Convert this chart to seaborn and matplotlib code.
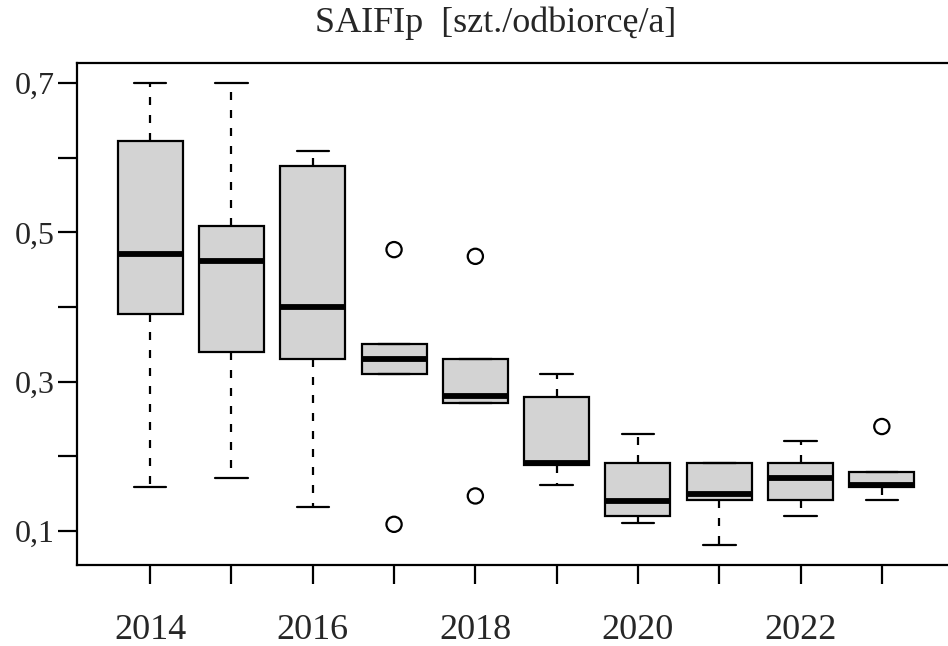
import numpy as np
import pandas as pd
import matplotlib
matplotlib.use("Agg")
import matplotlib.pyplot as plt
import seaborn as sns

# Five-number summary of SAIFIp per year
years = [2014, 2015, 2016, 2017, 2018, 2019, 2020, 2021, 2022, 2023]
whisker_low = [0.159, 0.171, 0.132, 0.311, 0.272, 0.162, 0.111, 0.081, 0.120, 0.141]
q1 = [0.391, 0.340, 0.331, 0.311, 0.272, 0.188, 0.120, 0.141, 0.141, 0.159]
median = [0.471, 0.462, 0.400, 0.331, 0.281, 0.191, 0.140, 0.150, 0.171, 0.162]
q3 = [0.622, 0.509, 0.589, 0.351, 0.331, 0.280, 0.191, 0.191, 0.191, 0.179]
whisker_high = [0.700, 0.700, 0.609, 0.351, 0.331, 0.310, 0.230, 0.191, 0.221, 0.179]

# Outlying observations
outlier_years = [2017, 2017, 2018, 2018, 2023]
outlier_values = [0.477, 0.109, 0.468, 0.147, 0.240]

y_ticks = [0.1, 0.2, 0.3, 0.4, 0.5, 0.6, 0.7]
y_tick_labels = ["0,1", "", "0,3", "", "0,5", "", "0,7"]
x_tick_labels = ["2014", "", "2016", "", "2018", "", "2020", "", "2022", ""]
title = "SAIFIp  [szt./odbiorcę/a]"

sns.set_theme(style="ticks")
plt.rcParams["font.family"] = ["Liberation Serif", "DejaVu Serif"]

# Long-form table: each year's summary values, so the quartiles are exact
rows = []
for yr, lo, a, m, b, hi in zip(years, whisker_low, q1, median, q3, whisker_high):
    for v in (lo, a, m, b, hi):
        rows.append({"rok": yr, "SAIFIp": v})
df = pd.DataFrame(rows)
out_df = pd.DataFrame({"rok": outlier_years, "SAIFIp": outlier_values})

fig = plt.figure(figsize=(9.48, 6.46), dpi=100)
ax = fig.add_axes([77 / 948, 81 / 646, 878 / 948, 502 / 646])

lw = 1.6
sns.boxplot(
    data=df, x="rok", y="SAIFIp", native_scale=True, ax=ax,
    whis=(0, 100), showfliers=False, width=0.8, saturation=1,
    color="#d3d3d3", linecolor="black", linewidth=lw,
    medianprops=dict(linewidth=4.2, color="black", solid_capstyle="butt"),
    whiskerprops=dict(linestyle=(0, (3.6, 4.5)), linewidth=lw),
    capprops=dict(linewidth=lw),
    boxprops=dict(linewidth=lw),
)
sns.scatterplot(
    data=out_df, x="rok", y="SAIFIp", ax=ax,
    marker="o", s=120, facecolor="none", edgecolor="black", linewidth=1.6,
    zorder=5,
)

ax.set_xlim(2013.1, 2023.9)
ax.set_ylim(0.0545, 0.727)
ax.set_xticks(years)
ax.set_xticklabels(x_tick_labels)
ax.set_yticks(y_ticks)
ax.set_yticklabels(y_tick_labels)
ax.set_xlabel("")
ax.set_ylabel("")

ax.tick_params(axis="both", direction="out", length=14, width=1.6, color="black")
ax.tick_params(axis="y", labelsize=23, pad=2)
ax.tick_params(axis="x", labelsize=26, pad=21)
for side in ("left", "top", "bottom", "right"):
    ax.spines[side].set_visible(True)
    ax.spines[side].set_linewidth(1.6)
    ax.spines[side].set_color("black")

fig.text(496 / 948, 1 - 32 / 646, title, ha="center", va="baseline", fontsize=26)

fig.savefig("out.png", dpi=100, facecolor="white")
